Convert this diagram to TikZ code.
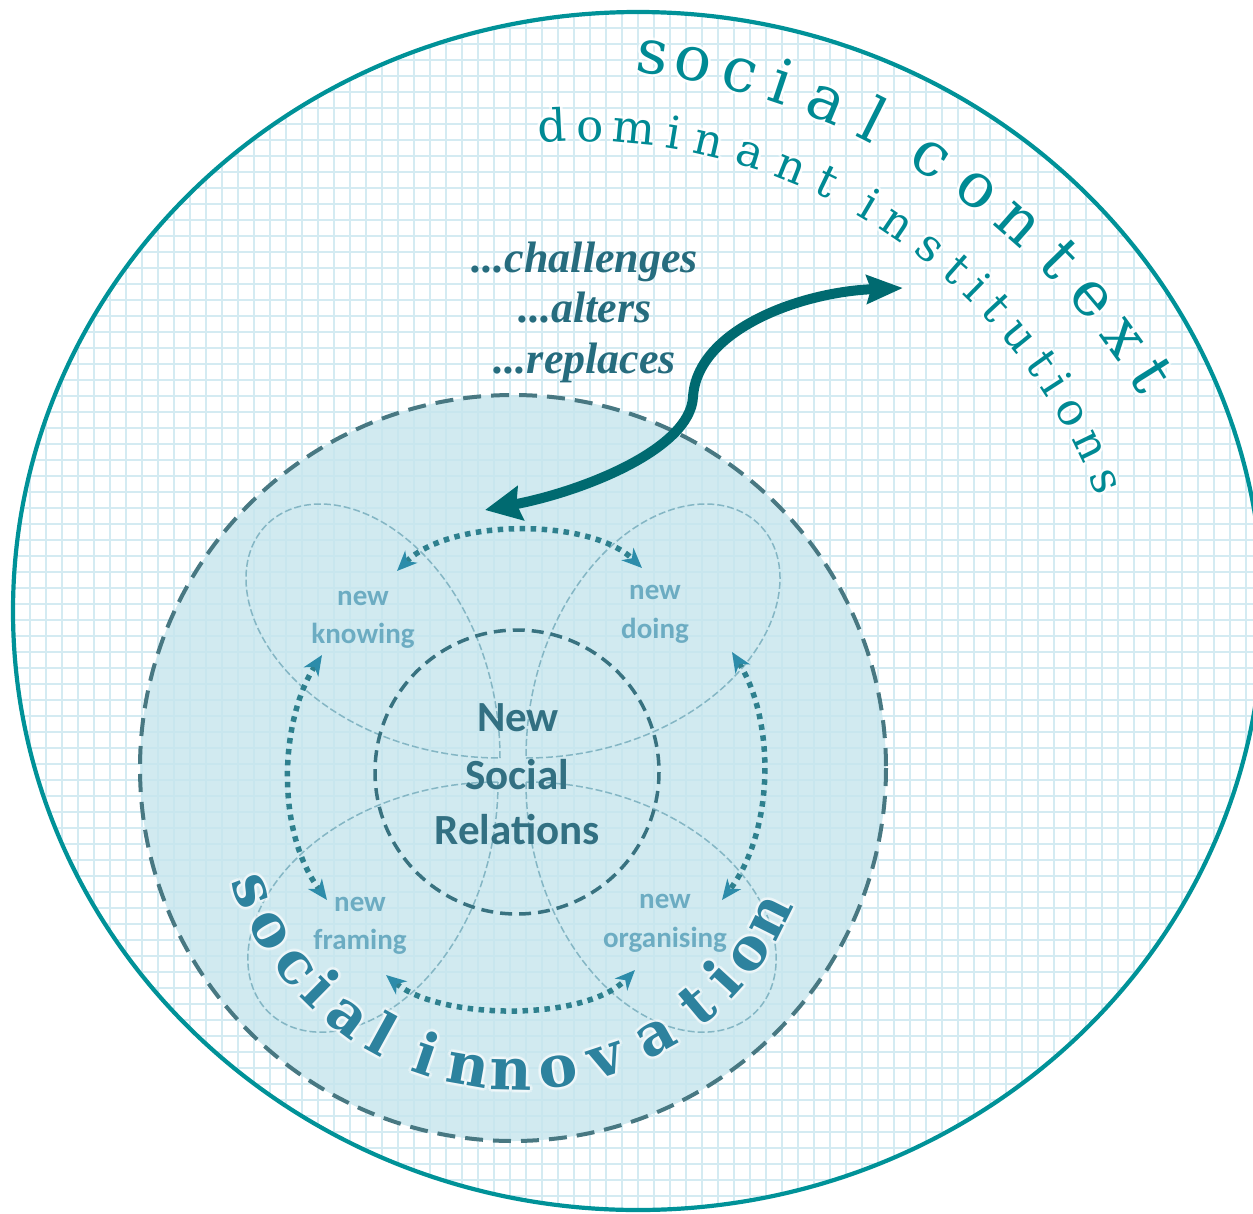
\documentclass[tikz,border=0pt]{standalone}
\usepackage{fontspec}
\newfontfamily\calib{Carlito}
\newfontfamily\arcfont{DejaVu Serif}
\newfontfamily\verbfont{Liberation Serif}
\usetikzlibrary{arrows.meta}
\definecolor{gridc}{RGB}{212,235,242}
\definecolor{outerc}{RGB}{0,146,152}
\definecolor{sifill}{RGB}{198,229,237}
\definecolor{sidash}{RGB}{72,120,130}
\definecolor{nsrdash}{RGB}{56,114,128}
\definecolor{petalc}{RGB}{132,182,196}
\definecolor{dotc}{RGB}{46,128,142}
\definecolor{headc}{RGB}{44,140,170}
\definecolor{bigc}{RGB}{0,106,112}
\definecolor{verbc}{RGB}{38,108,126}
\definecolor{ctxc}{RGB}{0,138,148}
\definecolor{sic}{RGB}{45,130,158}
\definecolor{labelc}{RGB}{108,172,194}
\definecolor{nsrc}{RGB}{50,112,130}
\begin{document}
\begin{tikzpicture}[x=1pt,y=-1pt,
  gridline/.style={draw=gridc, line width=1.7pt},
  outerring/.style={draw=outerc, line width=4.2pt},
  sidisk/.style={fill=sifill, fill opacity=0.8, draw=none},
  siring/.style={draw=sidash, line width=4pt, dash pattern=on 18pt off 10pt},
  nsrring/.style={draw=nsrdash, line width=3.5pt, dash pattern=on 12pt off 7pt},
  petal/.style={draw=petalc, line width=1.5pt, dash pattern=on 7pt off 3pt},
  dotarrow/.style={draw=dotc, line width=5.5pt, dash pattern=on 5.5pt off 5.5pt,
     {Stealth[length=20pt,width=17pt,inset=6pt,color=headc]}-{Stealth[length=20pt,width=17pt,inset=6pt,color=headc]}},
  bigarrow/.style={draw=bigc, line width=10pt,
     {Stealth[length=36pt,width=34pt,inset=4pt]}-{Stealth[length=36pt,width=28pt,inset=4pt]}},
  ctxletter/.style={text=ctxc, font=\arcfont\fontsize{62}{62}\selectfont, anchor=mid, inner sep=0pt},
  dinletter/.style={text=ctxc, font=\arcfont\fontsize{45}{45}\selectfont, anchor=mid, inner sep=0pt},
  siletter/.style={text=sic, font=\arcfont\bfseries\fontsize{58}{58}\selectfont, anchor=mid, inner sep=0pt},
  glow/.style={text=white, text opacity=0.55},
  verb/.style={text=verbc, font=\verbfont\bfseries\itshape\fontsize{44}{44}\selectfont, anchor=base, inner sep=0pt},
  lbl/.style={text=labelc, font=\calib\bfseries\fontsize{29}{29}\selectfont, inner sep=0pt},
  nsr/.style={text=nsrc, font=\calib\bfseries\fontsize{43}{43}\selectfont, inner sep=0pt}
]
\useasboundingbox (0,0) rectangle (1253,1213);
\fill[white] (0,0) rectangle (1253,1213);

% grid inside the outer ring
\begin{scope}
  \clip (638,611) ellipse [x radius=625, y radius=599];
  \foreach \gx in {14,30,...,1270} \draw[gridline] (\gx,0) -- (\gx,1213);
  \foreach \gy in {12,28,...,1212} \draw[gridline] (0,\gy) -- (1253,\gy);
\end{scope}
\draw[outerring] (638,611) ellipse [x radius=625, y radius=599];

% social innovation disk
\fill[sidisk] (513,768) circle [radius=373];
\draw[siring] (513,768) circle [radius=373];

% petals
\draw[petal] plot[domain=90:180, samples=90, smooth] ({500+330*abs(sin(2*\x))*cos(\x)},{758-330*abs(sin(2*\x))*sin(\x)});
\draw[petal] plot[domain=0:90, samples=90, smooth] ({526+330*abs(sin(2*\x))*cos(\x)},{758-330*abs(sin(2*\x))*sin(\x)});
\draw[petal] plot[domain=180:270, samples=90, smooth] ({498+325*abs(sin(2*\x))*cos(\x)},{782-325*abs(sin(2*\x))*sin(\x)});
\draw[petal] plot[domain=270:360, samples=90, smooth] ({526+325*abs(sin(2*\x))*cos(\x)},{782-325*abs(sin(2*\x))*sin(\x)});

% new social relations ring
\draw[nsrring] (517,772) circle [radius=142];

% dotted double arrows
\coordinate (tA) at (397,571); \coordinate (tB) at (642,568);
\draw[dotarrow] (tA) .. controls (450,518) and (590,518) .. (tB);
\coordinate (lA) at (322,655); \coordinate (lB) at (327,900);
\draw[dotarrow] (lA) .. controls (280,720) and (275,830) .. (lB);
\coordinate (rA) at (732,652); \coordinate (rB) at (722,900);
\draw[dotarrow] (rA) .. controls (775,720) and (775,830) .. (rB);
\coordinate (bA) at (386,975); \coordinate (bB) at (635,970);
\draw[dotarrow] (bA) .. controls (440,1020) and (585,1022) .. (bB);

% labels
\node[lbl] (kn1) at (363,598) {new};
\node[lbl] (kn2) at (363,636) {knowing};
\node[lbl] (do1) at (655,592) {new};
\node[lbl] (do2) at (655,631) {doing};
\node[lbl] (fr1) at (360,904) {new};
\node[lbl] (fr2) at (360,942) {framing};
\node[lbl] (or1) at (665,901) {new};
\node[lbl] (or2) at (665,940) {organising};
\node[nsr] (nsr1) at (518,718) {New};
\node[nsr] (nsr2) at (517,775) {Social};
\node[nsr] (nsr3) at (517,830) {Relations};

% verbs
\node[verb] (v1) at (585,272) {...challenges};
\node[verb] (v2) at (585,322) {...alters};
\node[verb] (v3) at (585,373) {...replaces};

% big curved arrow
\coordinate (bigL) at (485,510);
\coordinate (bigM) at (693,397);
\coordinate (bigR) at (903,288);
\draw[bigarrow] (bigL) .. controls (580,492) and (690,450) .. (bigM) .. controls (697,330) and (800,292) .. (bigR);

% social context
\foreach \a/\ch [count=\ii] in {82.2/s,78.8/o,74.9/c,71.4/i,67.4/a,63.3/l,57.7/c,53.1/o,48.7/n,44.2/t,40.1/e,35.9/x,32.1/t}{
  \foreach \ox/\oy [count=\jj] in {3/0,-3/0,0/3,0/-3,2/2,2/-2,-2/2,-2/-2}
    \node[ctxletter, glow, rotate=\a-90] (scg\ii-\jj) at ({558+682*cos(\a)+\ox},{747-682*sin(\a)+\oy}) {\ch};
}
\foreach \a/\ch [count=\ii] in {82.2/s,78.8/o,74.9/c,71.4/i,67.4/a,63.3/l,57.7/c,53.1/o,48.7/n,44.2/t,40.1/e,35.9/x,32.1/t}{
  \node[ctxletter, rotate=\a-90] (sc\ii) at ({558+682*cos(\a)},{747-682*sin(\a)}) {\ch};
}

% dominant institutions
\foreach \a/\ch [count=\ii] in {92.9/d,89.1/o,84.6/m,80.6/i,77.0/n,72.6/a,68.2/n,64.3/t,59.4/i,56.0/n,51.9/s,48.4/t,45.6/i,42.8/t,39.2/u,35.6/t,33.0/i,29.8/o,25.9/n,22.0/s}{
  \foreach \ox/\oy [count=\jj] in {3/0,-3/0,0/3,0/-3,2/2,2/-2,-2/2,-2/-2}
    \node[dinletter, glow, rotate=\a-90] (dig\ii-\jj) at ({581+554*cos(\a)+\ox},{693-554*sin(\a)+\oy}) {\ch};
}
\foreach \a/\ch [count=\ii] in {92.9/d,89.1/o,84.6/m,80.6/i,77.0/n,72.6/a,68.2/n,64.3/t,59.4/i,56.0/n,51.9/s,48.4/t,45.6/i,42.8/t,39.2/u,35.6/t,33.0/i,29.8/o,25.9/n,22.0/s}{
  \node[dinletter, rotate=\a-90] (di\ii) at ({581+554*cos(\a)},{693-554*sin(\a)}) {\ch};
}

% social innovation
\foreach \a/\ch [count=\ii] in {200.8/s,209.6/o,218.7/c,225.4/i,233.3/a,241.2/l,251.2/i,260.0/n,268.7/n,278.3/o,288.4/v,299.3/a,309.9/t,317.5/i,325.0/o,333.3/n}{
  \foreach \ox/\oy [count=\jj] in {3/0,-3/0,0/3,0/-3,2/2,2/-2,-2/2,-2/-2}
    \node[siletter, glow, text opacity=0.35, rotate=\a+90] (sig\ii-\jj) at ({517+298*cos(\a)+\ox},{790-298*sin(\a)+\oy}) {\ch};
}
\foreach \a/\ch [count=\ii] in {200.8/s,209.6/o,218.7/c,225.4/i,233.3/a,241.2/l,251.2/i,260.0/n,268.7/n,278.3/o,288.4/v,299.3/a,309.9/t,317.5/i,325.0/o,333.3/n}{
  \node[siletter, rotate=\a+90] (si\ii) at ({517+298*cos(\a)},{790-298*sin(\a)}) {\ch};
}
\end{tikzpicture}
\end{document}
